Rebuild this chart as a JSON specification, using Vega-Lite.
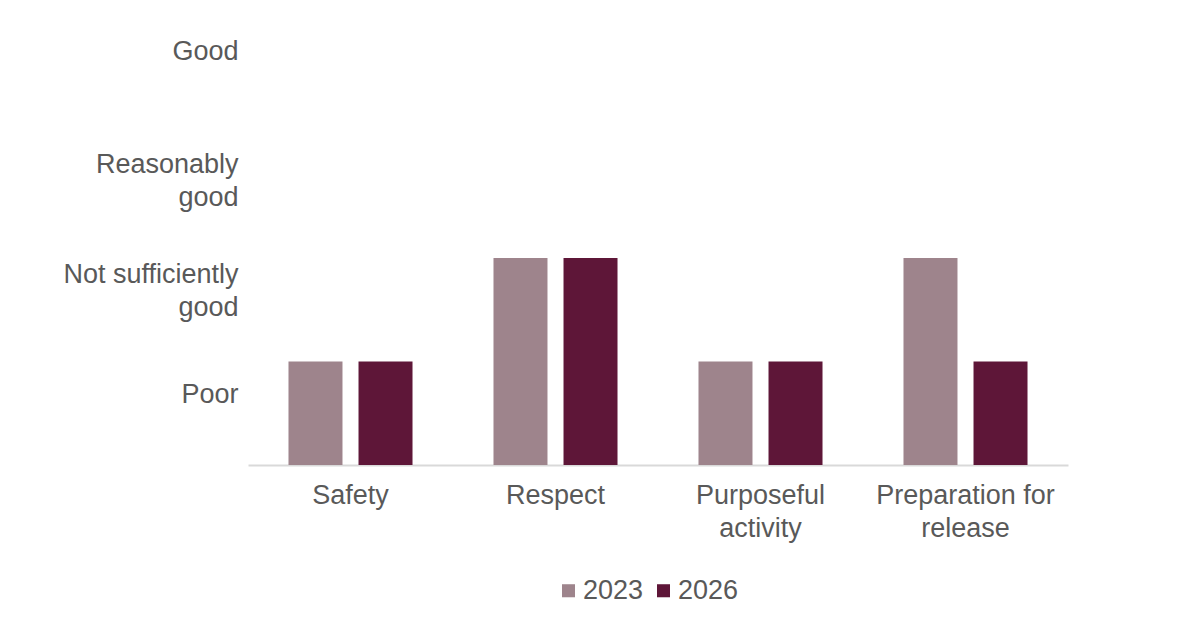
{
  "$schema": "https://vega.github.io/schema/vega-lite/v6.json",
  "width": 820,
  "height": 414,
  "autosize": "none",
  "padding": {"left": 248, "top": 51, "right": 132, "bottom": 153},
  "background": "white",
  "config": {
    "view": {"stroke": null},
    "font": "Liberation Sans"
  },
  "data": {
    "values": [
      {"area": "Safety", "year": "2023", "rating": 1},
      {"area": "Safety", "year": "2026", "rating": 1},
      {"area": "Respect", "year": "2023", "rating": 2},
      {"area": "Respect", "year": "2026", "rating": 2},
      {"area": "Purposeful activity", "year": "2023", "rating": 1},
      {"area": "Purposeful activity", "year": "2026", "rating": 1},
      {"area": "Preparation for release", "year": "2023", "rating": 2},
      {"area": "Preparation for release", "year": "2026", "rating": 1}
    ]
  },
  "mark": "bar",
  "encoding": {
    "x": {
      "field": "area",
      "type": "nominal",
      "sort": null,
      "title": null,
      "scale": {"paddingInner": 0.395, "paddingOuter": 0.1975},
      "axis": {
        "labelAngle": 0,
        "labelFontSize": 27,
        "labelColor": "#595959",
        "labelLineHeight": 33,
        "labelPadding": 17,
        "ticks": false,
        "domainColor": "#d9d9d9",
        "domainWidth": 2,
        "labelExpr": "datum.value == 'Purposeful activity' ? ['Purposeful', 'activity'] : datum.value == 'Preparation for release' ? ['Preparation for', 'release'] : datum.value"
      }
    },
    "xOffset": {
      "field": "year",
      "type": "nominal",
      "scale": {"paddingInner": 0.229, "paddingOuter": 0}
    },
    "y": {
      "field": "rating",
      "type": "quantitative",
      "title": null,
      "scale": {"domain": [0, 4], "nice": false},
      "axis": {
        "values": [0.68, 1.84, 2.9, 4],
        "grid": false,
        "domain": false,
        "ticks": false,
        "labelFontSize": 27,
        "labelColor": "#595959",
        "labelLineHeight": 33,
        "labelPadding": 10,
        "labelBaseline": "middle",
        "labelExpr": "datum.value < 1 ? 'Poor' : datum.value < 2 ? ['Not sufficiently', 'good'] : datum.value < 3 ? ['Reasonably', 'good'] : 'Good'"
      }
    },
    "color": {
      "field": "year",
      "type": "nominal",
      "title": null,
      "scale": {"domain": ["2023", "2026"], "range": ["#9e848c", "#5e1638"]},
      "legend": {
        "orient": "none",
        "direction": "horizontal",
        "legendX": 307,
        "legendY": 526,
        "symbolType": "square",
        "symbolSize": 170,
        "symbolStrokeWidth": 0,
        "labelFontSize": 27,
        "labelColor": "#595959",
        "columnPadding": 6,
        "labelOffset": 1
      }
    }
  }
}
